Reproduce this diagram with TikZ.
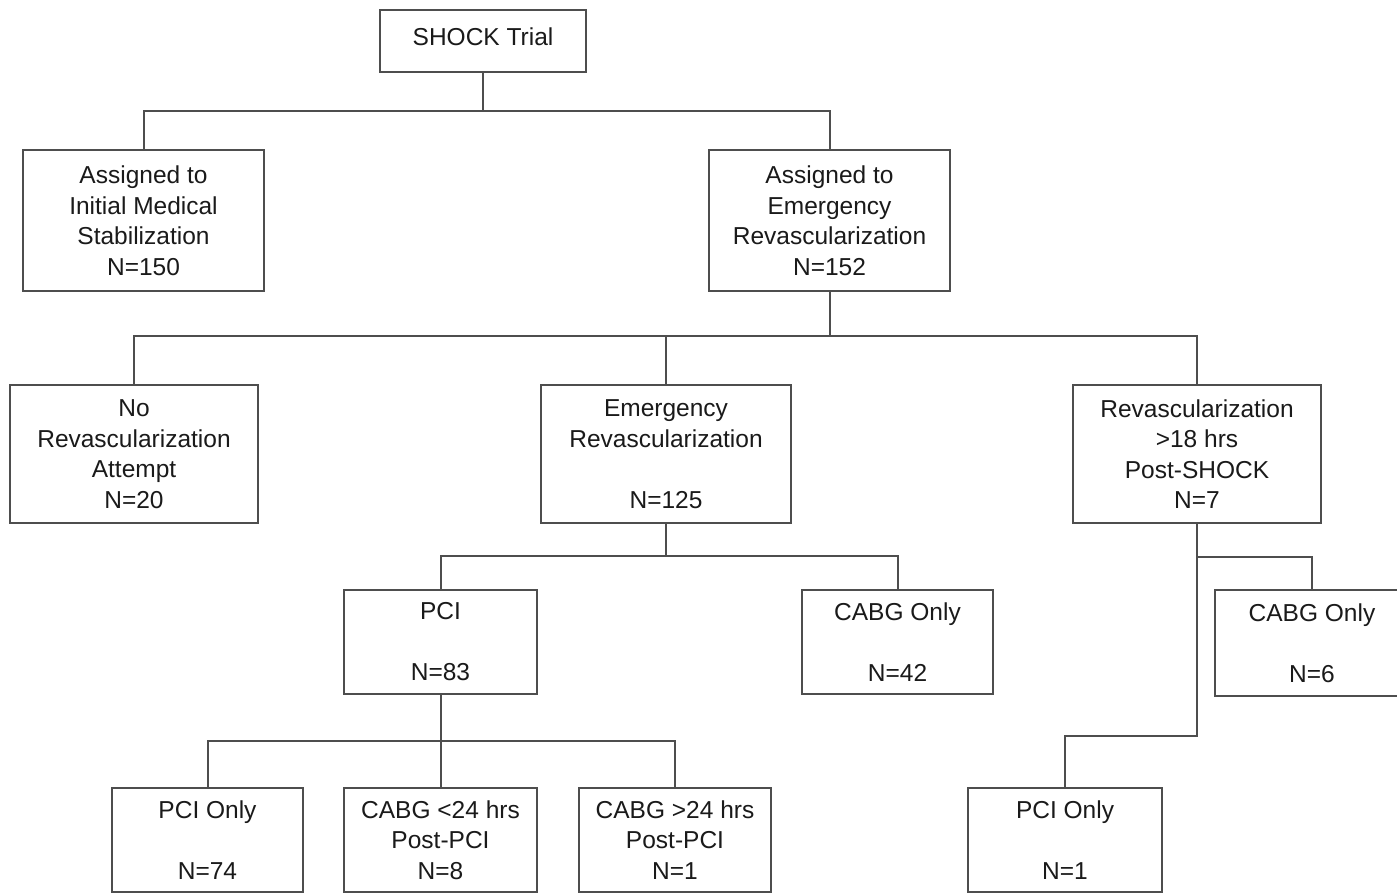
\documentclass[tikz,border=0pt]{standalone}
\usepackage{fontspec}
\setmainfont{Liberation Sans}
\definecolor{linec}{HTML}{4E4E4E}
\definecolor{txtc}{HTML}{1A1A1A}
\begin{document}
\begin{tikzpicture}[x=1pt,y=-1pt,
  box/.style={draw=linec, line width=2.2pt, align=center, inner sep=0pt, text=txtc,
              font=\fontsize{24.5}{30.5}\selectfont},
  conn/.style={draw=linec, line width=2pt}]
\useasboundingbox[fill=white] (0,0) rectangle (1397,893);

\node[box, minimum width=206pt, minimum height=62pt, text height=18pt, text depth=8pt] (shock) at (483,41) {SHOCK Trial};
\node[box, minimum width=241pt, minimum height=141pt] (med) at (143.5,220.5) {Assigned to\\Initial Medical\\Stabilization\\N=150};
\node[box, minimum width=241pt, minimum height=141pt] (emer) at (829.5,220.5) {Assigned to\\Emergency\\Revascularization\\N=152};

\node[box, minimum width=248pt, minimum height=138pt] (norev) at (134,454) {No\\Revascularization\\Attempt\\N=20};
\node[box, minimum width=250pt, minimum height=138pt] (emrev) at (666,454) {Emergency\\Revascularization\\[30.5pt]N=125};
\node[box, minimum width=248pt, minimum height=138pt] (rev18) at (1197,454) {Revascularization\\>18 hrs\\Post-SHOCK\\N=7};

\node[box, minimum width=193pt, minimum height=104pt] (pci) at (440.5,642) {PCI\\[30.5pt]N=83};
\node[box, minimum width=191pt, minimum height=104pt] (cabgA) at (897.5,642) {CABG Only\\[30.5pt]N=42};
\node[box, minimum width=194pt, minimum height=106pt] (cabgB) at (1312,643) {CABG Only\\[30.5pt]N=6};

\node[box, minimum width=191pt, minimum height=104pt] (pcionlyA) at (207.5,840) {PCI Only\\[30.5pt]N=74};
\node[box, minimum width=193pt, minimum height=104pt] (cabglt) at (440.5,840) {CABG <24 hrs\\Post-PCI\\N=8};
\node[box, minimum width=192pt, minimum height=104pt] (cabggt) at (675,840) {CABG >24 hrs\\Post-PCI\\N=1};
\node[box, minimum width=194pt, minimum height=104pt] (pcionlyB) at (1065,840) {PCI Only\\[30.5pt]N=1};

\coordinate (j1) at (0,111);
\coordinate (j2) at (0,336);
\coordinate (j3) at (0,556);
\coordinate (j4) at (0,741);
\coordinate (j5) at (0,557);
\coordinate (j6) at (0,736);

\draw[conn] (shock.south) -- (shock.south |- j1) -| (med.north);
\draw[conn] (shock.south |- j1) -| (emer.north);

\draw[conn] (emer.south) -- (emer.south |- j2) -| (norev.north);
\draw[conn] (emer.south |- j2) -| (emrev.north);
\draw[conn] (emer.south |- j2) -| (rev18.north);

\draw[conn] (emrev.south) -- (emrev.south |- j3) -| (pci.north);
\draw[conn] (emrev.south |- j3) -| (cabgA.north);

\draw[conn] (pci.south) -- (cabglt.north);
\draw[conn] (pci.south |- j4) -| (pcionlyA.north);
\draw[conn] (pci.south |- j4) -| (cabggt.north);

\draw[conn] (rev18.south) -- (rev18.south |- j6) -| (pcionlyB.north);
\draw[conn] (rev18.south |- j5) -| (cabgB.north);
\end{tikzpicture}
\end{document}
